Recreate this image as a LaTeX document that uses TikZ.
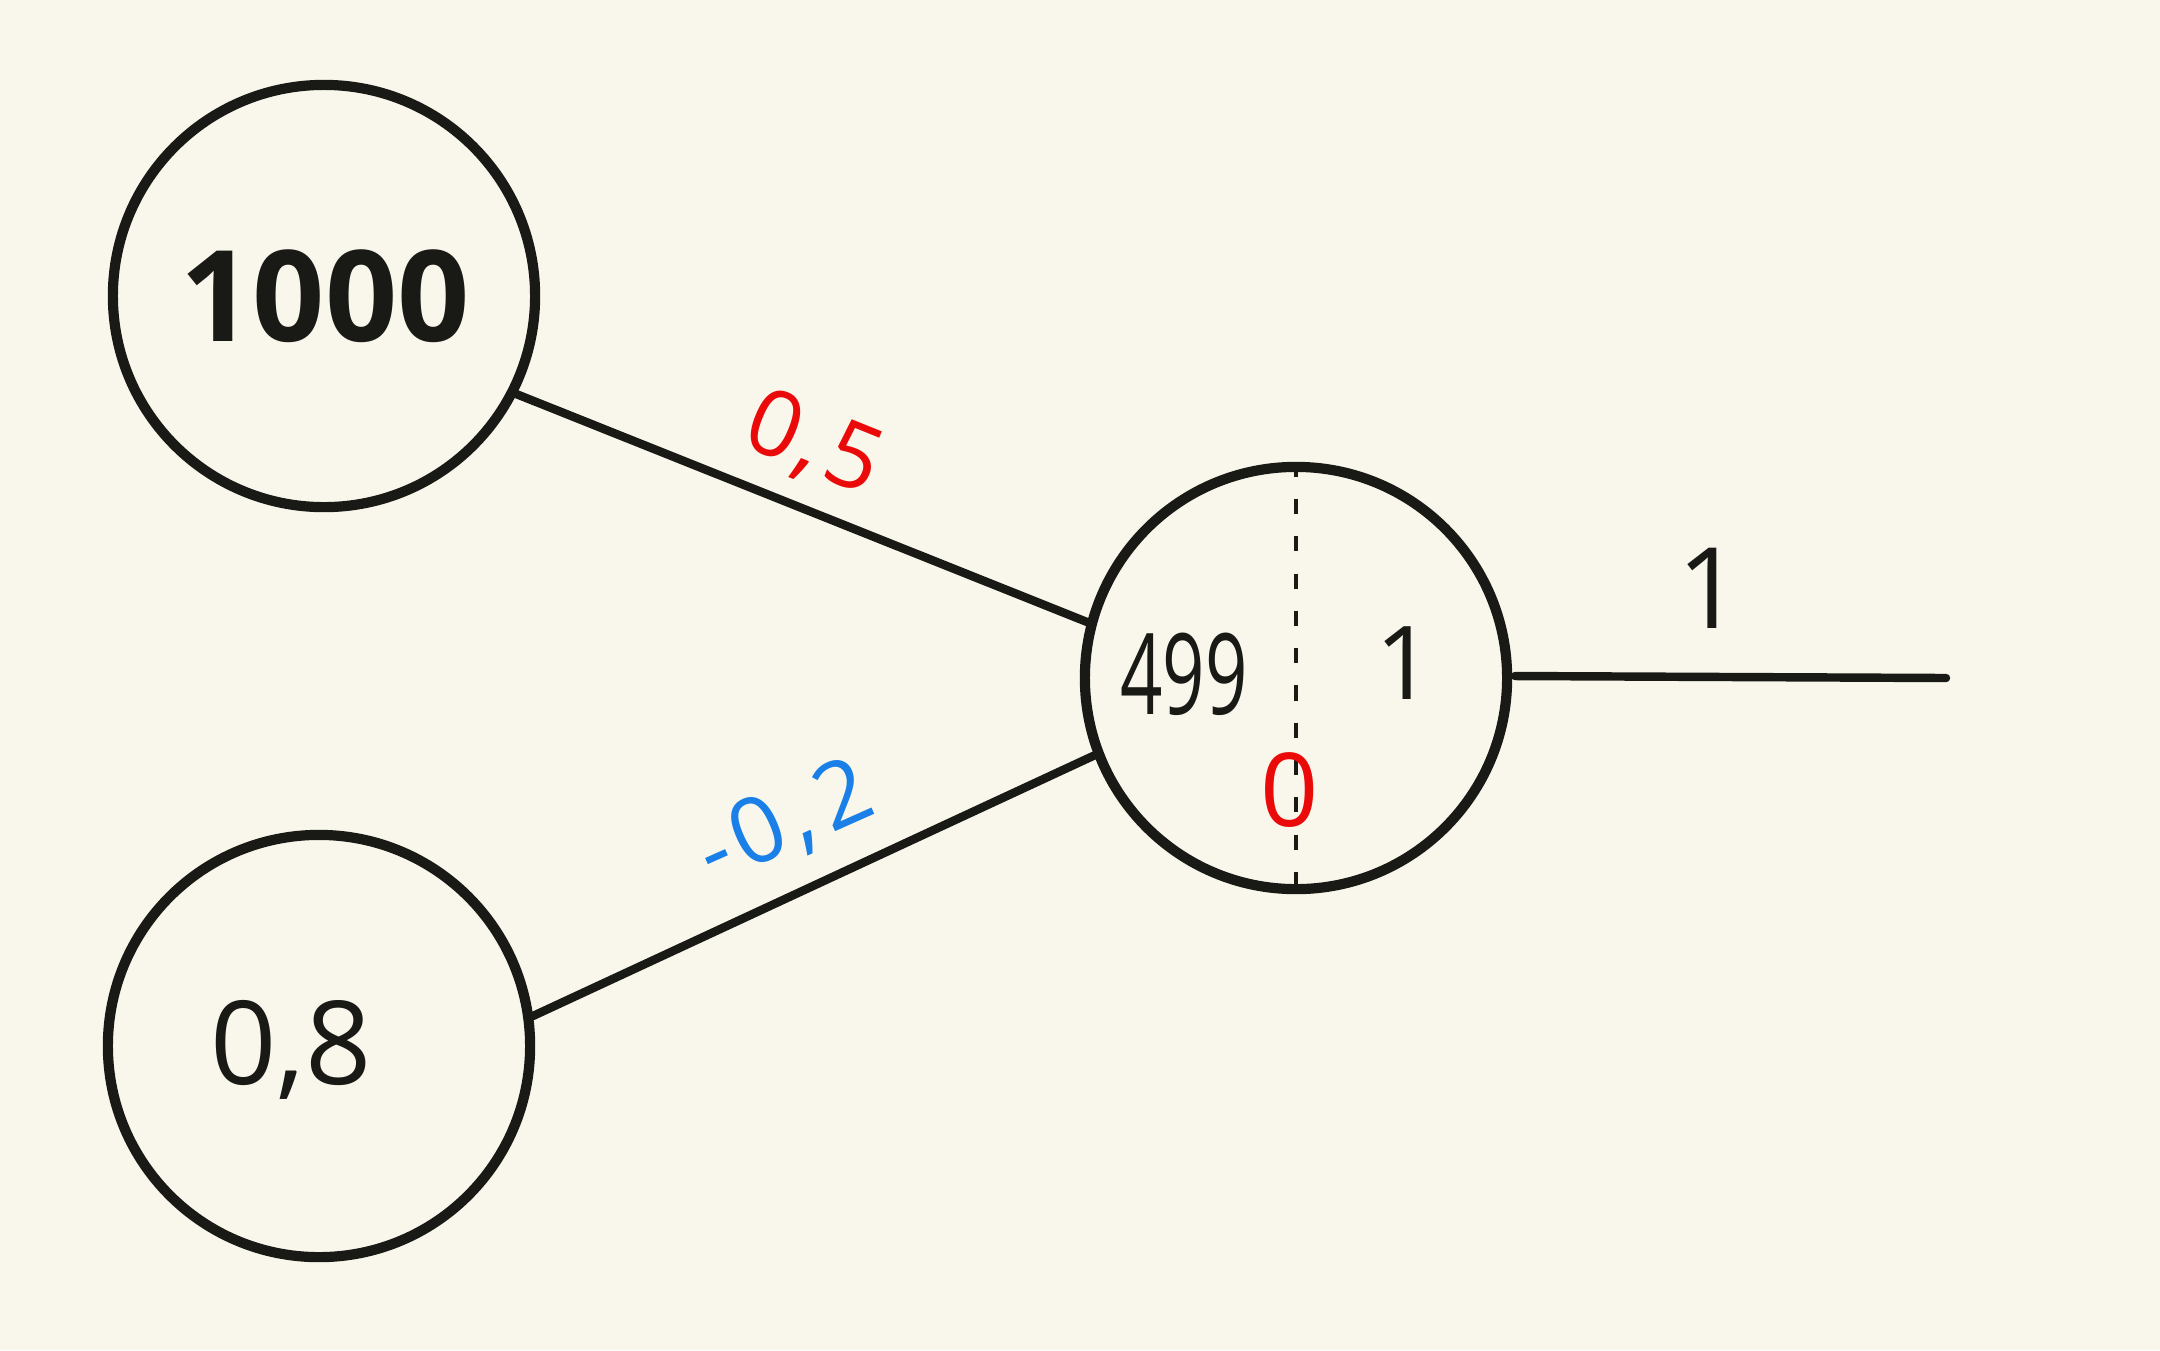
\documentclass[tikz,border=0pt]{standalone}
\usepackage{fontspec}
\setmainfont{Open Sans}
\definecolor{bg}{RGB}{249,247,235}
\definecolor{hred}{RGB}{235,10,10}
\definecolor{hblue}{RGB}{26,128,232}
\definecolor{ink}{RGB}{25,25,22}
\begin{document}
\begin{tikzpicture}[x=0.01cm,y=-0.01cm,
  neuron/.style={circle,draw=ink,line width=2.9pt,minimum size=4.22cm,inner sep=0pt},
  wire/.style={draw=ink,line width=2.4pt,line cap=round},
  lbl/.style={inner sep=0pt,text=ink}]
\fill[bg] (0,0) rectangle (2160,1350);
\useasboundingbox (0,0) rectangle (2160,1350);
\node[neuron] (c1) at (324,296) {};
\node[neuron] (c2) at (319,1046) {};
\node[neuron] (c3) at (1296,678) {};
\coordinate (out) at (1946,678);
\coordinate (outs) at (1515,676);
\draw[wire] (c1.-27) -- (c3.165.5);
\draw[wire] (c2.8.4) -- (c3.201.6);
\draw[wire] (outs) -- (out);
\draw[ink,line width=1.2pt,dash pattern=on 4.3pt off 6.3pt] (c3.north) -- (c3.south);
\node[lbl,font=\fontsize{36}{40}\selectfont\bfseries] (t1000) at (325,296) {1000};
\node[lbl,font=\fontsize{33}{38}\selectfont] (t08) at (291,1050) {0,8};
\node[lbl,font=\fontsize{32}{38}\selectfont,xscale=0.66] (t499) at (1184,674) {499};
\node[lbl,font=\fontsize{29}{34}\selectfont] (t1) at (1405,663) {1};
\node[lbl,font=\fontsize{29}{34}\selectfont,text=hred] (tb) at (1290,790) {0};
\node[lbl,font=\fontsize{32}{36}\selectfont] (tout) at (1710,588) {1};
\node[lbl,font=\fontsize{26}{30}\selectfont,text=hred,rotate=-22] (w1) at (813,445) {0\kern1pt,\kern2pt5};
\node[lbl,font=\fontsize{26}{30}\selectfont,text=hblue,rotate=24] (w2) at (785,824) {-\kern2pt0\kern2pt,\kern3pt2};
\end{tikzpicture}
\end{document}
